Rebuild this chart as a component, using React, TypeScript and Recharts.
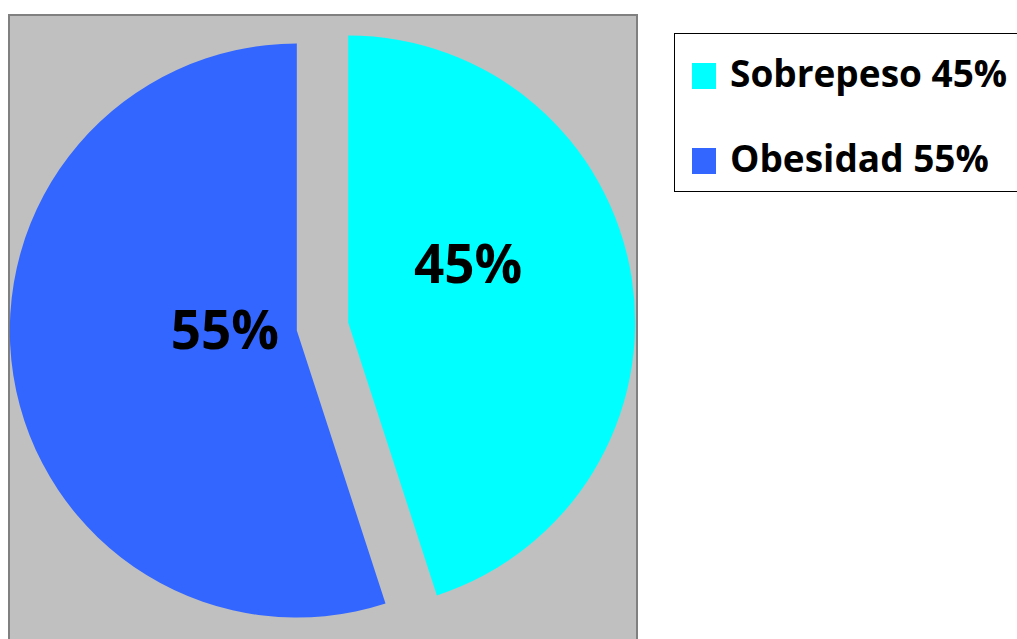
import { PieChart, Pie, Cell, Legend } from "recharts"

const categories = ["Sobrepeso", "Obesidad"]
const values = [45, 55]
const colors = ["#00FFFF", "#3366FF"]
const legendLabels = ["Sobrepeso 45%", "Obesidad 55%"]

const data = categories.map((name, i) => ({ name, value: values[i] }))

const FONT = "'Open Sans', 'Liberation Sans', sans-serif"

// explode offset and label placement for each slice (center of pie is shared)
const EXPLODE = 26
const BASE_CX = 322.5
const BASE_CY = 326.5
const RADIUS = 287

function explodedCenter(index: number) {
  // slice mid angle (deg, recharts convention: counter-clockwise from 3 o'clock)
  const total = values.reduce((a, b) => a + b, 0)
  let start = 90
  for (let i = 0; i < index; i++) start -= (values[i] / total) * 360
  const mid = start - ((values[index] / total) * 360) / 2
  const rad = (mid * Math.PI) / 180
  return { cx: BASE_CX + EXPLODE * Math.cos(rad), cy: BASE_CY - EXPLODE * Math.sin(rad) }
}

const labelShift = [
  { dx: 120, dy: -39 },
  { dx: -72, dy: 18 },
]

function makeLabel(index: number) {
  return (props: any) => {
    if (props.index !== index) return null
    const s = labelShift[index]
    return (
      <text
        x={props.cx + s.dx}
        y={props.cy + s.dy}
        textAnchor="middle"
        fill="#000"
        fontFamily={FONT}
        fontWeight={700}
        fontSize={53}
      >
        {`${props.value}%`}
      </text>
    )
  }
}

function LegendBox() {
  return (
    <div
      style={{
        position: "relative",
        width: 344,
        height: 159,
        border: "1.5px solid #000",
        background: "#fff",
        boxSizing: "border-box",
        fontFamily: FONT,
        fontWeight: 700,
        fontSize: 37,
        color: "#000",
      }}
    >
      {legendLabels.map((label, i) => (
        <div key={label}>
          <div
            style={{
              position: "absolute",
              left: 17,
              top: 29 + i * 85,
              width: 24,
              height: 26,
              background: colors[i],
            }}
          />
          <div
            style={{
              position: "absolute",
              left: 55,
              top: 9 + i * 85,
              lineHeight: "60px",
              whiteSpace: "nowrap",
            }}
          >
            {label}
          </div>
        </div>
      ))}
    </div>
  )
}

export default function App() {
  return (
    <div style={{ position: "fixed", left: 0, top: 0, width: 1017, height: 639, overflow: "hidden", background: "#fff" }}>
      <div
        style={{
          position: "absolute",
          left: 8,
          top: 14,
          width: 630,
          height: 625,
          background: "#C0C0C0",
          borderTop: "2px solid #808080",
          borderLeft: "2px solid #808080",
          borderRight: "2px solid #808080",
          boxSizing: "border-box",
        }}
      />
      <div style={{ position: "absolute", left: 0, top: 0 }}>
        <PieChart width={1017} height={639} margin={{ top: 0, right: 0, bottom: 0, left: 0 }}>
          {categories.map((_, k) => {
            const c = explodedCenter(k)
            return (
              <Pie
                key={k}
                data={data}
                dataKey="value"
                nameKey="name"
                cx={c.cx}
                cy={c.cy}
                outerRadius={RADIUS}
                startAngle={90}
                endAngle={-270}
                stroke="none"
                labelLine={false}
                label={makeLabel(k)}
                isAnimationActive={false}
                legendType={k === 0 ? "square" : "none"}
              >
                {data.map((d, i) => (
                  <Cell key={d.name} fill={i === k ? colors[i] : "transparent"} />
                ))}
              </Pie>
            )
          })}
          <Legend
            layout="vertical"
            align="right"
            verticalAlign="middle"
            content={() => <LegendBox />}
            wrapperStyle={{ position: "absolute", left: 674, top: 33, width: 344, height: 159 }}
          />
        </PieChart>
      </div>
    </div>
  )
}
